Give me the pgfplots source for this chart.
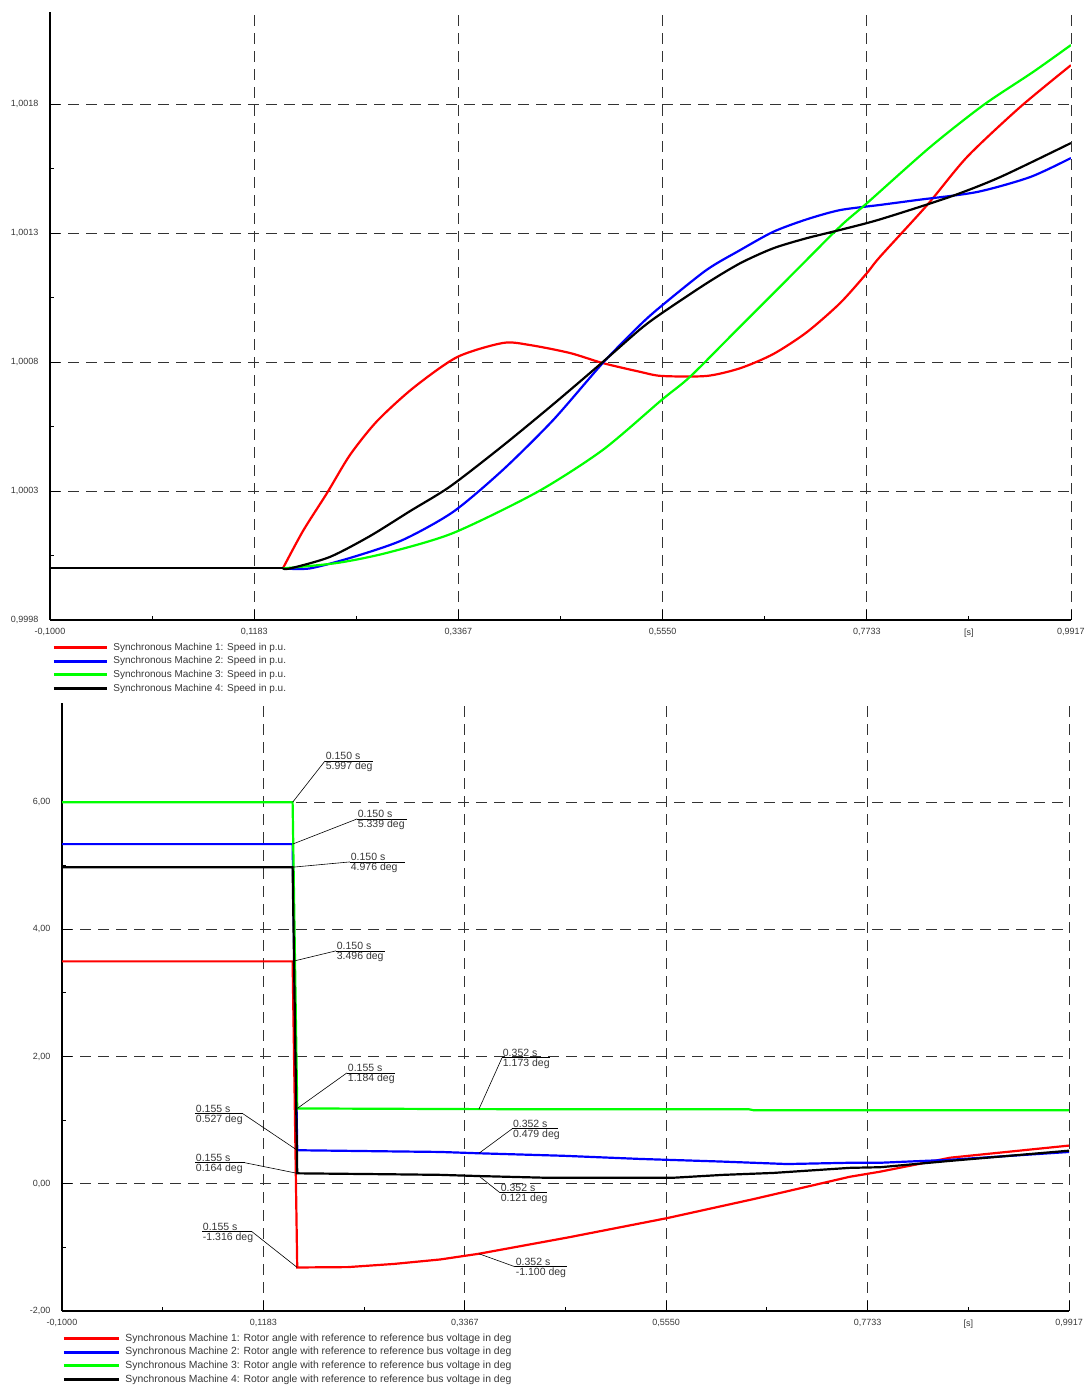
\documentclass[border=0pt]{standalone}
\usepackage{fontspec}
\setmainfont{Liberation Sans}
\usepackage{pgfplots}
\pgfplotsset{compat=1.18}
\definecolor{sred}{RGB}{255,0,0}
\definecolor{sblue}{RGB}{0,0,255}
\definecolor{sgreen}{RGB}{0,255,0}
\definecolor{txt}{RGB}{55,55,55}
\newcommand{\annfont}{\fontsize{10.5bp}{11bp}\selectfont}
\newcommand{\annot}[8]{%
  \draw[black, line width=0.6bp] (axis cs:#1,#2) -- (axis cs:#3,#4);
  \draw[black, line width=0.6bp] (axis cs:#5,#4) -- (axis cs:#6,#4);
  \node[anchor=south west, inner sep=0.7bp, text=txt, font=\annfont] at (axis cs:#5,#4) {#7};
  \node[anchor=north west, inner sep=0.7bp, text=txt, font=\annfont] at (axis cs:#5,#4) {#8};
}
\pgfplotsset{
  pfstyle/.style={
    scale only axis,
    axis x line=bottom, axis y line=left,
    axis line style={-, line width=1.2bp, black},
    tick align=inside,
    major tick length=10bp, minor tick length=4bp,
    every tick/.style={black, line width=0.9bp},
    grid=major,
    major grid style={black!80, line width=0.9bp, dash pattern=on 11bp off 7bp},
    minor x tick num=1, minor y tick num=1,
    ticklabel style={font=\fontsize{9bp}{10bp}\selectfont, text=txt},
    xticklabel style={yshift=-5bp},
    yticklabel style={xshift=-8bp},
    xtick={-0.1,0.11834,0.33668,0.55502,0.77336,0.9917},
    xticklabels={{-0,1000},{0,1183},{0,3367},{0,5550},{0,7733},{0,9917}},
    extra x ticks={0.88253},
    extra x tick labels={{[s]}},
    extra x tick style={grid=none, major tick length=4bp},
    xmin=-0.1, xmax=0.9917,
    legend cell align=left,
    legend style={at={(0,0)}, anchor=north west, draw=none, fill=none,
      inner sep=0pt, text=txt,
      row sep=3.2bp, nodes={inner sep=1bp, text height=7bp, text depth=1.5bp},
      /tikz/every odd column/.style={column sep=4bp}},
    every axis plot/.append style={line width=2.2bp},
  }
}
\begin{document}
\begin{tikzpicture}
\path[use as bounding box] (0bp,0bp) rectangle (1086bp,1385bp);

% ---------- Top: speed ----------
\begin{axis}[pfstyle,
  at={(50bp,765bp)}, anchor=south west,
  width=1021bp, height=608bp,
  ymin=0.9998, ymax=1.002157,
  ytick={0.9998,1.0003,1.0008,1.0013,1.0018},
  yticklabels={{0,9998},{1,0003},{1,0008},{1,0013},{1,0018}},
  legend style={xshift=2bp, yshift=-22bp, font=\fontsize{10bp}{11bp}\selectfont},
  legend image code/.code={\draw[#1, line width=3.2bp] (0bp,0bp) -- (53bp,0bp);},
]
\addplot[sred, smooth, tension=0.45] coordinates {
(0.149,1.0) (0.1705,1.000145) (0.1962,1.000292) (0.2208,1.00044)
(0.2497,1.000571) (0.2882,1.000699) (0.3352,1.000819) (0.3844,1.000874)
(0.413,1.000866) (0.456,1.000835) (0.491,1.000796) (0.531,1.000762)
(0.554,1.000746) (0.602,1.000746) (0.638,1.000776) (0.6734,1.000831)
(0.709,1.000915) (0.7447,1.001028) (0.7733,1.001144) (0.7875,1.001208)
(0.838,1.001409) (0.8806,1.001595) (0.9372,1.001788) (0.9917,1.001951)};
\addlegendentry{Synchronous Machine 1: Speed in p.u.}
\addplot[sblue, smooth, tension=0.45] coordinates {
(0.149,1.0) (0.178,1.0) (0.224,1.000044) (0.277,1.00011)
(0.331,1.000219) (0.384,1.000381) (0.438,1.000575) (0.491,1.000796)
(0.531,1.000944) (0.554,1.001018) (0.602,1.001157) (0.638,1.001234)
(0.6734,1.001305) (0.709,1.001353) (0.7447,1.001389) (0.7875,1.001409)
(0.827,1.001428) (0.891,1.001459) (0.948,1.001517) (0.9917,1.001591)};
\addlegendentry{Synchronous Machine 2: Speed in p.u.}
\addplot[sgreen, smooth, tension=0.45] coordinates {
(0.149,1.0) (0.207,1.000021) (0.260,1.00006) (0.331,1.000137)
(0.421,1.000296) (0.491,1.000459) (0.554,1.000653) (0.5844,1.000743)
(0.6378,1.000937) (0.6913,1.001131) (0.7447,1.001325) (0.7733,1.001415)
(0.841,1.001633) (0.898,1.001796) (0.951,1.001924) (0.9917,1.002029)};
\addlegendentry{Synchronous Machine 3: Speed in p.u.}
\addplot[black, smooth, tension=0.45] coordinates {
(0.149,1.0) (0.157,1.0) (0.199,1.000044) (0.242,1.000125)
(0.285,1.000222) (0.328,1.000318) (0.384,1.000475) (0.438,1.000636)
(0.491,1.0008) (0.531,1.000927) (0.554,1.000989) (0.602,1.001105)
(0.638,1.001183) (0.6734,1.001241) (0.709,1.00128) (0.7447,1.001312)
(0.7875,1.001353) (0.862,1.00144) (0.916,1.001517) (0.9917,1.001649)};
\addlegendentry{Synchronous Machine 4: Speed in p.u.}
\addplot[black, forget plot] coordinates {(-0.1,1.0) (0.149,1.0)};
\end{axis}

% ---------- Bottom: rotor angle ----------
\begin{axis}[pfstyle,
  at={(62bp,74bp)}, anchor=south west,
  width=1007bp, height=608bp,
  ymin=-2, ymax=7.557,
  ytick={-2,0,2,4,6},
  yticklabels={{-2,00},{0,00},{2,00},{4,00},{6,00}},
  legend style={xshift=0bp, yshift=-22bp, font=\fontsize{10.4bp}{11bp}\selectfont},
  legend image code/.code={\draw[#1, line width=3.2bp] (0bp,0bp) -- (55bp,0bp);},
]
\addplot[sred] coordinates {
(-0.1,3.496) (0.150,3.496) (0.155,-1.316) (0.21,-1.31) (0.26,-1.26)
(0.31,-1.19) (0.352,-1.100) (0.45,-0.84) (0.556,-0.54) (0.65,-0.24)
(0.754,0.11) (0.787,0.19) (0.863,0.41) (0.9917,0.60)};
\addlegendentry{Synchronous Machine 1: Rotor angle with reference to reference bus voltage in deg}
\addplot[sblue] coordinates {
(-0.1,5.339) (0.150,5.339) (0.155,0.527) (0.25,0.51) (0.31,0.50)
(0.352,0.479) (0.443,0.44) (0.527,0.39) (0.613,0.35) (0.686,0.31)
(0.754,0.33) (0.787,0.33) (0.863,0.377) (0.9917,0.50)};
\addlegendentry{Synchronous Machine 2: Rotor angle with reference to reference bus voltage in deg}
\addplot[sgreen] coordinates {
(-0.1,5.997) (0.150,5.997) (0.155,1.184) (0.352,1.173) (0.645,1.17)
(0.65,1.155) (0.9917,1.155)};
\addlegendentry{Synchronous Machine 3: Rotor angle with reference to reference bus voltage in deg}
\addplot[black] coordinates {
(-0.1,4.976) (0.150,4.976) (0.155,0.164) (0.25,0.15) (0.31,0.14)
(0.352,0.121) (0.426,0.094) (0.562,0.094) (0.617,0.14) (0.671,0.17)
(0.754,0.25) (0.787,0.26) (0.863,0.36) (0.9917,0.52)};
\addlegendentry{Synchronous Machine 4: Rotor angle with reference to reference bus voltage in deg}

\annot{0.150}{5.997}{0.1851}{6.646}{0.1851}{0.2372}{0.150 s}{5.997 deg}
\annot{0.150}{5.339}{0.2198}{5.734}{0.2198}{0.274}{0.150 s}{5.339 deg}
\annot{0.150}{4.976}{0.2122}{5.059}{0.2122}{0.2718}{0.150 s}{4.976 deg}
\annot{0.150}{3.496}{0.197}{3.661}{0.197}{0.250}{0.150 s}{3.496 deg}
\annot{0.155}{1.184}{0.209}{1.744}{0.209}{0.261}{0.155 s}{1.184 deg}
\annot{0.155}{0.527}{0.0962}{1.10}{0.0442}{0.0962}{0.155 s}{0.527 deg}
\annot{0.155}{0.164}{0.0984}{0.33}{0.0442}{0.0984}{0.155 s}{0.164 deg}
\annot{0.155}{-1.316}{0.106}{-0.754}{0.0518}{0.106}{0.155 s}{-1.316 deg}
\annot{0.352}{1.173}{0.377}{1.98}{0.377}{0.429}{0.352 s}{1.173 deg}
\annot{0.352}{0.479}{0.388}{0.864}{0.388}{0.4377}{0.352 s}{0.479 deg}
\annot{0.352}{0.121}{0.3748}{-0.141}{0.3748}{0.4258}{0.352 s}{0.121 deg}
\annot{0.352}{-1.100}{0.391}{-1.304}{0.391}{0.4475}{0.352 s}{-1.100 deg}
\end{axis}
\end{tikzpicture}
\end{document}
